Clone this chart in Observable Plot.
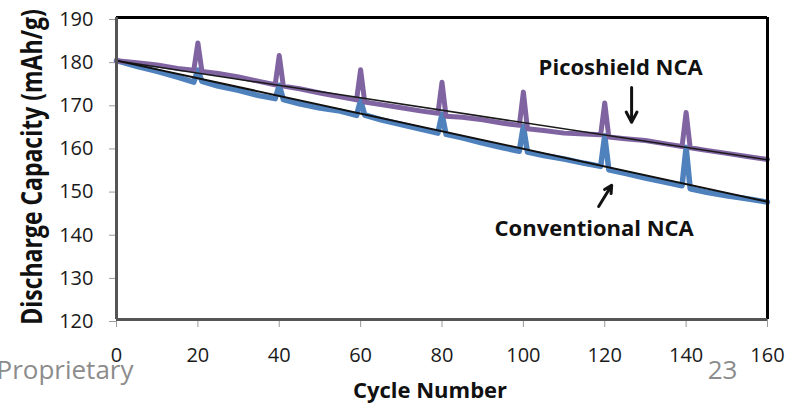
<!DOCTYPE html>
<html>
<head>
<meta charset="utf-8">
<script src="https://cdn.jsdelivr.net/npm/d3@7"></script>
<script src="https://cdn.jsdelivr.net/npm/@observablehq/plot@0.6"></script>
<style>
  body { margin: 0; background: #fff; }
  #chart svg { display: block; }
</style>
</head>
<body>
<div id="chart"></div>
<script>
// Cycle numbers at which capacity was sampled (spikes at every 20th cycle)
const cycles = [0, 5, 10, 15, 19, 20, 21, 25, 30, 35, 39, 40, 41, 45, 50, 55, 59, 60, 61, 65,
  70, 75, 79, 80, 81, 85, 90, 95, 99, 100, 101, 105, 110, 115, 119, 120, 121, 125, 130, 135,
  139, 140, 141, 145, 150, 155, 160];

// Discharge capacity (mAh/g), Picoshield-coated NCA
const picoshield = [180.0, 179.5, 179.0, 178.2, 177.8, 184.1, 177.5, 177.0, 176.2, 175.2,
  174.4, 181.2, 174.1, 173.5, 172.5, 171.6, 170.9, 177.9, 170.4, 169.8,
  169.1, 168.3, 167.8, 175.0, 167.1, 166.9, 166.3, 165.5, 165.0, 172.7, 164.2, 163.8, 163.2,
  163.0, 162.8, 170.2, 162.3, 161.9, 161.5, 160.7, 160.1, 168.0, 159.8, 159.2, 158.5, 157.8, 157.1];

// Discharge capacity (mAh/g), conventional NCA
const conventional = [180.0, 178.7, 177.5, 176.2, 175.0, 177.8, 175.2, 174.1, 173.1, 171.9,
  171.2, 174.3, 171.0, 170.0, 169.0, 168.3, 167.3, 170.8, 167.4, 166.3,
  165.2, 164.1, 163.2, 167.6, 162.9, 162.1, 160.9, 159.8, 159.0, 164.8, 158.8, 158.0, 157.2,
  156.2, 155.5, 162.6, 154.7, 153.9, 152.8, 151.8, 151.0, 159.9, 150.3, 149.5, 148.7, 148.0, 147.2];

// Linear fade trend lines (endpoints)
const trendCycles = [0, 160];
const picoshieldTrend = [180.0, 157.0];
const conventionalTrend = [180.0, 147.3];

// Axis ticks
const xTicks = [0, 20, 40, 60, 80, 100, 120, 140, 160];
const yTicks = [120, 130, 140, 150, 160, 170, 180, 190];

// Series annotations and their arrows
const labels = [
  {text: "Picoshield NCA", cycle: 123.9, capacity: 178.3},
  {text: "Conventional NCA", cycle: 117.4, capacity: 141.1}
];
const arrows = [
  {x1: 126.6, y1: 173.8, x2: 126.6, y2: 165.7},
  {x1: 118.5, y1: 146.2, x2: 121.7, y2: 151.1}
];

const toRows = (ys) => cycles.map((c, i) => ({cycle: c, capacity: ys[i]}));
const toTrend = (ys) => trendCycles.map((c, i) => ({cycle: c, capacity: ys[i]}));

const PURPLE = "#8064A2";
const BLUE = "#4F81BD";
const Y_TITLE = "Discharge Capacity (mAh/g)";

const chart = Plot.plot({
  width: 798,
  height: 409,
  marginLeft: 116,
  marginRight: 31,
  marginTop: 17,
  marginBottom: 90,
  style: {fontFamily: "'Open Sans', sans-serif", background: "#fff", overflow: "hidden"},
  x: {domain: [0, 160]},
  y: {domain: [120, 190]},
  marks: [
    Plot.axisY({ticks: yTicks, tickSize: 7, tickPadding: 16, fontSize: 20, dy: 2,
      stroke: "#9a9a9a", fill: "#1a1a1a", label: null}),
    Plot.axisX({ticks: xTicks, tickSize: 8, tickPadding: 20, fontSize: 20,
      stroke: "#9a9a9a", fill: "#1a1a1a", label: null}),
    Plot.line(toRows(conventional), {x: "cycle", y: "capacity", stroke: BLUE, strokeWidth: 5.5,
      strokeLinejoin: "round", strokeLinecap: "round"}),
    Plot.line(toRows(picoshield), {x: "cycle", y: "capacity", stroke: PURPLE, strokeWidth: 5,
      strokeLinejoin: "round", strokeLinecap: "round"}),
    Plot.line(toTrend(picoshieldTrend), {x: "cycle", y: "capacity", stroke: "#1a1a1a", strokeWidth: 1.5}),
    Plot.line(toTrend(conventionalTrend), {x: "cycle", y: "capacity", stroke: "#111", strokeWidth: 2}),
    // plot-area border: grey axis sides, black top and right
    Plot.ruleX([160], {stroke: "#000", strokeWidth: 3}),
    Plot.ruleY([190], {stroke: "#000", strokeWidth: 3}),
    Plot.ruleX([0], {stroke: "#555", strokeWidth: 3}),
    Plot.ruleY([120], {stroke: "#555", strokeWidth: 3}),
    Plot.text(labels, {x: "cycle", y: "capacity", text: "text", fontSize: 22, fontWeight: "bold", fill: "#111"}),
    Plot.arrow(arrows, {x1: "x1", y1: "y1", x2: "x2", y2: "y2", stroke: "#111", strokeWidth: 3,
      headLength: 11, headAngle: 55}),
    // axis titles
    Plot.text(["Cycle Number"], {frameAnchor: "bottom", dx: -12, dy: 78, textAnchor: "middle",
      fontSize: 22, fontWeight: "bold", fill: "#111"}),
    Plot.text([Y_TITLE], {frameAnchor: "left", dx: -84, dy: -1.5, rotate: -90, textAnchor: "middle",
      fontSize: 23, fontWeight: "bold", fill: "#111"}),
    // slide footer
    Plot.text(["Proprietary"], {frameAnchor: "bottom-left", dx: 17, dy: 59, textAnchor: "end",
      fontSize: 26, fill: "#8c8c8c"}),
    Plot.text(["23"], {frameAnchor: "bottom-right", dx: -45, dy: 59, textAnchor: "middle",
      fontSize: 26, fill: "#8c8c8c"})
  ]
});

document.getElementById("chart").appendChild(chart);

// The vertical title uses taller glyphs: stretch them across the reading direction
d3.select(chart).selectAll("text")
  .filter(function () { return this.textContent === Y_TITLE; })
  .attr("transform", function () { return (this.getAttribute("transform") || "") + " scale(1,1.27)"; });
</script>
</body>
</html>
